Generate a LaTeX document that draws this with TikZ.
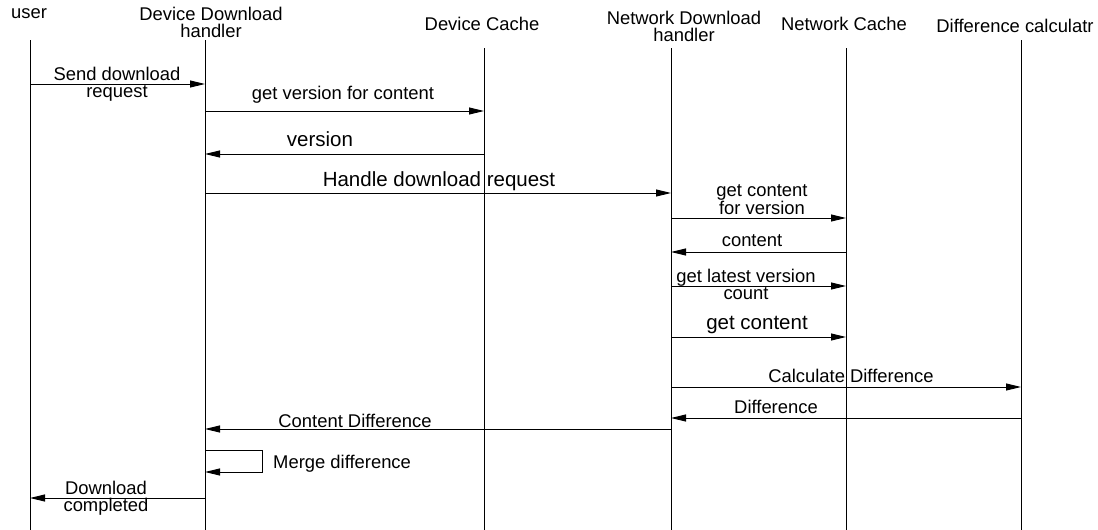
\documentclass[tikz,border=0pt]{standalone}
\usepackage{fontspec}
\setmainfont{Liberation Sans}
\usetikzlibrary{arrows.meta,positioning,calc}

\begin{document}
\begin{tikzpicture}[x=1pt,y=-1pt,
  lbl/.style={font=\fontsize{18.4}{17}\selectfont, align=center, inner sep=0pt},
  bigl/.style={font=\fontsize{20.5}{19}\selectfont, inner sep=0pt},
  life/.style={line width=1pt},
  msg/.style={line width=1pt,-{Triangle[length=15pt,width=7pt]}}]
\useasboundingbox (0,0) rectangle (1098,530);
% heads
\node[lbl] (user) at (29,14) {user};
\node[lbl] (ddh) at (211,22) {Device Download\\handler};
\node[lbl] (dc) at (482,24) {Device Cache};
\node[lbl] (ndh) at (684,26) {Network Download\\handler};
\node[lbl] (nc) at (844,24) {Network Cache};
\node[lbl] (calc) at (1015,26) {Difference calculatr};
% lifelines
\coordinate (uT) at (30,40);
\coordinate (ddhT) at (205,40);
\coordinate (dcT) at (484,48);
\coordinate (ndhT) at (671,48);
\coordinate (ncT) at (846,48);
\coordinate (calcT) at (1021,40);
\foreach \l in {uT,ddhT,dcT,ndhT,ncT,calcT}
  \draw[life] (\l) -- (\l |- 0,530);
% messages
\draw[msg] (uT |- 0,84) -- (ddhT |- 0,84);
\node[lbl] (m1) at (117,84) {Send download\\request};
\draw[msg] (ddhT |- 0,111) -- (dcT |- 0,111);
\node[lbl] (m2) at (343,95) {get version for content};
\draw[msg] (dcT |- 0,154) -- (ddhT |- 0,154);
\node[bigl] (m3) at (320,139) {version};
\draw[msg] (ddhT |- 0,193) -- (ndhT |- 0,193);
\node[bigl] (m4) at (439,181) {Handle download request};
\draw[msg] (ndhT |- 0,218) -- (ncT |- 0,218);
\node[lbl] (m5) at (762,200) {get content\\for version};
\draw[msg] (ncT |- 0,252) -- (ndhT |- 0,252);
\node[lbl] (m6) at (752,241) {content};
\draw[msg] (ndhT |- 0,286) -- (ncT |- 0,286);
\node[lbl] (m7) at (746,284) {get latest version\\count};
\draw[msg] (ndhT |- 0,337) -- (ncT |- 0,337);
\node[bigl] (m8) at (757,325) {get content};
\draw[msg] (ndhT |- 0,387) -- (calcT |- 0,387);
\node[lbl] (m9) at (851,376) {Calculate Difference};
\draw[msg] (calcT |- 0,418) -- (ndhT |- 0,418);
\node[lbl] (m10) at (776,407) {Difference};
\draw[msg] (ndhT |- 0,429) -- (ddhT |- 0,429);
\node[lbl] (m11) at (355,421) {Content Difference};
\draw[msg] (ddhT |- 0,450) -- (262,450) -- (262,472) -- (ddhT |- 0,472);
\node[lbl,anchor=west] (m12) at (273,464) {Merge difference};
\draw[msg] (ddhT |- 0,498) -- (uT |- 0,498);
\node[lbl] (m13) at (106,498) {Download\\completed};
\end{tikzpicture}
\end{document}
